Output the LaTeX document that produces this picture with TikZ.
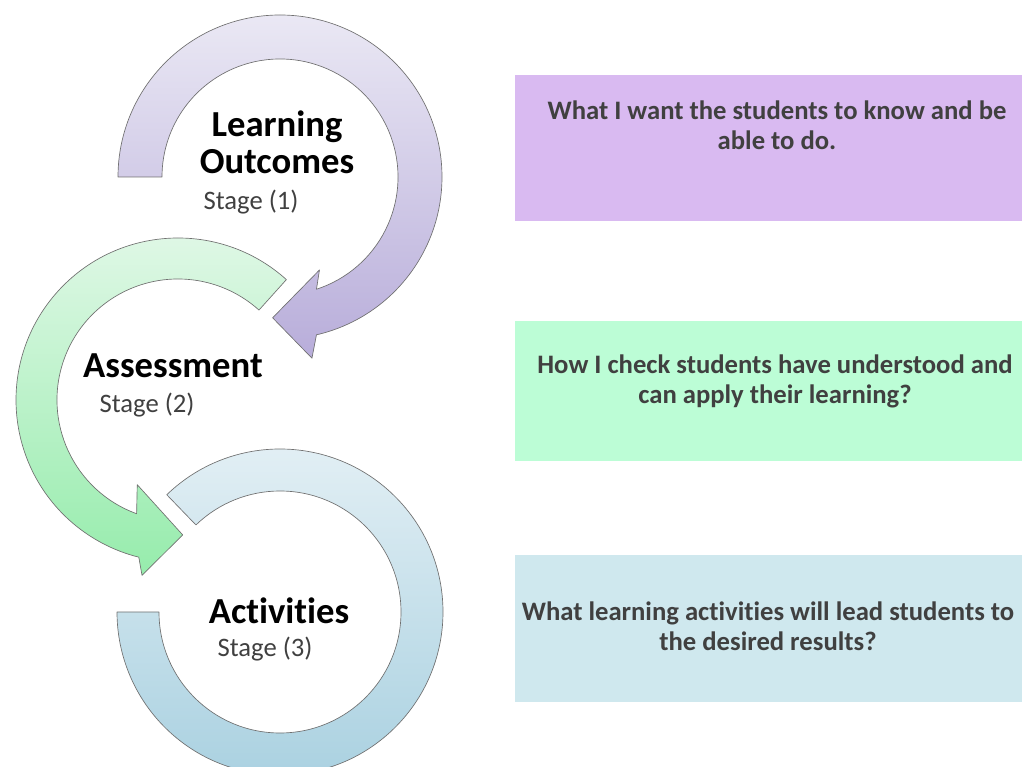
\documentclass[tikz,border=0pt]{standalone}
\usepackage{fontspec}
\setmainfont{Carlito}[Ligatures=NoCommon]
\usetikzlibrary{positioning}

\definecolor{lilac}{RGB}{217,186,241}
\definecolor{mint}{RGB}{188,253,214}
\definecolor{icebl}{RGB}{207,232,238}
\definecolor{txtgray}{RGB}{64,64,64}
\definecolor{ringedge}{RGB}{112,112,112}

\begin{document}
\begin{tikzpicture}[
    x=0.75pt, y=0.75pt,
    ring/.style={draw=ringedge,line width=0.5pt,line join=round},
    title/.style={font=\bfseries\fontsize{27.5}{28}\selectfont,align=center,inner sep=0pt},
    stagelbl/.style={font=\fontsize{20}{22}\selectfont,text=txtgray,inner sep=0pt},
    qbox/.style={rectangle,minimum width=380pt,anchor=north east},
    qtext/.style={font=\bfseries\fontsize{20}{22.5}\selectfont,text=txtgray,align=center,inner sep=0pt}
  ]
    \useasboundingbox (0,0) rectangle (1022,767);

    % Ring 1: learning outcomes, clockwise, head at the bottom
    \begin{scope}[shift={(280,590)}]
      \draw[ring,top color={rgb,255:red,234;green,232;blue,244},bottom color={rgb,255:red,184;green,173;blue,218}]
        (180:162) arc[start angle=180,end angle=-77,radius=162]
        -- (-80:184) -- (-93:141) -- (-67:101) -- (-72:118)
        arc[start angle=-72,end angle=180,radius=118] -- cycle;
    \end{scope}

    % Ring 2: assessment, anticlockwise, head at the bottom
    \begin{scope}[shift={(178,367)}]
      \draw[ring,top color={rgb,255:red,226;green,248;blue,232},bottom color={rgb,255:red,150;green,236;blue,172}]
        (48:162) arc[start angle=48,end angle=256,radius=162]
        -- (258.4:179) -- (272:135) -- (244.3:94) -- (250:121)
        arc[start angle=250,end angle=48,radius=121] -- cycle;
    \end{scope}

    % Ring 3: activities, open ring without a head
    \begin{scope}[shift={(280,155)}]
      \draw[ring,top color={rgb,255:red,228;green,240;blue,245},bottom color={rgb,255:red,168;green,208;blue,224}]
        (134:163) arc[start angle=134,end angle=-180,radius=163]
        -- (180:121) arc[start angle=-180,end angle=134,radius=121] -- cycle;
    \end{scope}

    % Stage titles
    \node[title] (lo) at (277,625) {Learning\\Outcomes};
    \node[stagelbl] (st1) at (251,565) {Stage (1)};
    \node[title] (as) at (173,401) {Assessment};
    \node[stagelbl] (st2) at (147,362) {Stage (2)};
    \node[title] (ac) at (279,156) {Activities};
    \node[stagelbl] (st3) at (265,118) {Stage (3)};

    % Question boxes
    \node[qbox,fill=lilac,minimum height=109pt] (b1) at (1022,692) {};
    \node[qbox,fill=mint,minimum height=105pt,below=75pt of b1] (b2) {};
    \node[qbox,fill=icebl,minimum height=110pt,below=70pt of b2] (b3) {};

    \node[qtext] (q1) at (777,642) {What I want the students to know and be\\able to do.};
    \node[qtext] (q2) at (775,386) {How I check students have understood and\\can apply their learning?};
    \node[qtext] (q3) at (768,141) {What learning activities will lead students to\\the desired results?};
  \end{tikzpicture}
\end{document}
